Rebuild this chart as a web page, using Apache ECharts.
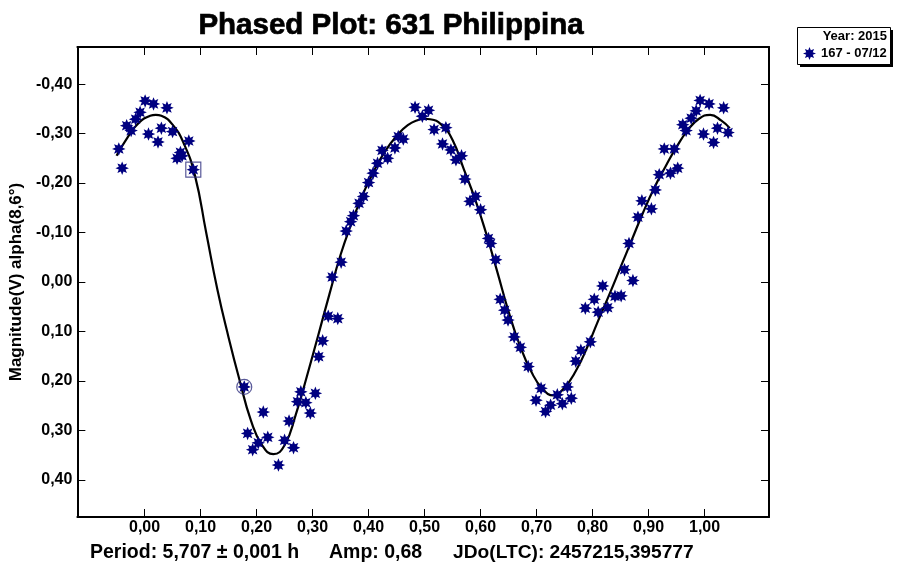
<!DOCTYPE html>
<html>
<head>
<meta charset="utf-8">
<script src="https://cdn.jsdelivr.net/npm/echarts@6/dist/echarts.min.js"></script>
<style>
html,body{margin:0;padding:0;background:#fff;}
#chart{width:900px;height:573px;}
</style>
</head>
<body>
<div id="chart"></div>
<script>
// ---- data ----
var titleText = 'Phased Plot: 631 Philippina';
var yAxisName = 'Magnitude(V) alpha(8,6°)';
var footerPeriod = 'Period: 5,707 ± 0,001 h';
var footerAmp = 'Amp: 0,68';
var footerJD = 'JDo(LTC): 2457215,395777';
var legendHeader = 'Year: 2015';
var seriesName = '167 - 07/12';

var xTicks = [0.0, 0.1, 0.2, 0.3, 0.4, 0.5, 0.6, 0.7, 0.8, 0.9, 1.0];
var yTicks = [-0.4, -0.3, -0.2, -0.1, 0.0, 0.1, 0.2, 0.3, 0.4];

// observed points [phase, magnitude]
var obs = [
  [-0.046,-0.269],[-0.040,-0.230],[-0.032,-0.316],[-0.024,-0.306],[-0.016,-0.329],
  [-0.008,-0.343],[0.001,-0.366],[0.016,-0.360],[0.007,-0.299],[0.024,-0.283],
  [0.030,-0.311],[0.040,-0.352],[0.050,-0.304],[0.058,-0.250],[0.064,-0.262],
  [0.067,-0.255],[0.079,-0.285],[0.087,-0.227],
  [0.178,0.212],[0.184,0.306],[0.193,0.339],[0.203,0.325],[0.212,0.263],
  [0.220,0.314],[0.239,0.370],[0.250,0.320],[0.258,0.281],[0.266,0.335],
  [0.273,0.242],[0.279,0.222],[0.288,0.244],[0.296,0.265],[0.305,0.225],
  [0.311,0.151],[0.318,0.119],[0.328,0.069],[0.345,0.074],[0.335,-0.010],
  [0.351,-0.040],[0.360,-0.103],[0.368,-0.122],[0.373,-0.134],[0.383,-0.159],
  [0.391,-0.173],[0.400,-0.201],[0.408,-0.220],[0.416,-0.240],[0.424,-0.266],
  [0.434,-0.250],[0.447,-0.271],[0.453,-0.294],[0.462,-0.289],[0.483,-0.353],
  [0.496,-0.335],[0.507,-0.347],[0.517,-0.308],[0.538,-0.312],[0.532,-0.279],
  [0.547,-0.267],[0.556,-0.247],[0.566,-0.255],[0.572,-0.208],[0.581,-0.163],
  [0.591,-0.173],[0.600,-0.146],[0.614,-0.088],[0.618,-0.078],[0.627,-0.045],
  [0.635,0.035],[0.643,0.057],[0.649,0.077],[0.660,0.111],[0.671,0.132],
  [0.685,0.171],[0.699,0.239],[0.708,0.215],[0.716,0.262],[0.725,0.249],
  [0.737,0.228],[0.746,0.246],[0.755,0.212],[0.762,0.235],[0.770,0.160],
  [0.779,0.138],[0.796,0.121],[0.787,0.053],[0.803,0.035],[0.818,0.008],
  [0.810,0.061],[0.827,0.052],[0.840,0.029],[0.851,0.028],[0.857,-0.025],
  [0.872,-0.003],[0.865,-0.078],[0.881,-0.131],[0.888,-0.164],[0.905,-0.148],
  [0.912,-0.186],[0.919,-0.217],[0.939,-0.220],[0.952,-0.230],[0.928,-0.269],
  [0.946,-0.269],[0.961,-0.318],[0.967,-0.306],[0.976,-0.331],[0.985,-0.346],
  [0.992,-0.367],[1.008,-0.360],[1.034,-0.352],[0.998,-0.299],[1.023,-0.311],
  [1.042,-0.302],[1.016,-0.282]
];

// highlighted points
var squarePoint = [[0.087,-0.227]];
var circlePoint = [[0.178,0.212]];

// fitted curve
var fit = [
  [-0.050,-0.255],[-0.030,-0.293],[-0.010,-0.322],[0.010,-0.336],[0.020,-0.338],
  [0.030,-0.336],[0.050,-0.318],[0.070,-0.280],[0.090,-0.215],[0.110,-0.100],
  [0.130,0.015],[0.150,0.112],[0.170,0.200],[0.190,0.280],[0.210,0.330],
  [0.230,0.348],[0.250,0.330],[0.270,0.268],[0.290,0.190],[0.310,0.108],
  [0.330,0.025],[0.350,-0.055],[0.370,-0.120],[0.390,-0.178],[0.410,-0.225],
  [0.430,-0.265],[0.450,-0.295],[0.470,-0.317],[0.490,-0.328],[0.500,-0.330],
  [0.510,-0.329],[0.530,-0.318],[0.550,-0.287],[0.570,-0.228],[0.590,-0.168],
  [0.610,-0.098],[0.630,-0.020],[0.650,0.060],[0.670,0.128],[0.690,0.180],
  [0.710,0.215],[0.730,0.229],[0.750,0.213],[0.770,0.180],[0.790,0.133],
  [0.810,0.078],[0.830,0.025],[0.850,-0.030],[0.870,-0.085],[0.890,-0.140],
  [0.910,-0.190],[0.930,-0.233],[0.950,-0.273],[0.970,-0.307],[0.990,-0.330],
  [1.010,-0.338],[1.030,-0.326],[1.045,-0.311]
];

// ---- drawing ----
var FONT = "'Liberation Sans', Arial, sans-serif";
var NAVY = '#000080';

function starPath(n, rOut, rIn) {
  var s = '';
  for (var i = 0; i < 2 * n; i++) {
    var r = (i % 2 === 0) ? rOut : rIn;
    var a = Math.PI * i / n - Math.PI / 2;
    var x = (10 + r * Math.cos(a)).toFixed(3);
    var y = (10 + r * Math.sin(a)).toFixed(3);
    s += (i === 0 ? 'M' : 'L') + x + ' ' + y + ' ';
  }
  return 'path://' + s + 'Z';
}
var STAR = starPath(8, 10, 5.4);

function fmt(v) { return v.toFixed(2).replace('.', ','); }

var chart = echarts.init(document.getElementById('chart'), null, {renderer: 'canvas'});

var axisCommon = {
  type: 'value',
  axisLine: {show: true, onZero: false, lineStyle: {color: '#000', width: 2}},
  splitLine: {show: false}
};
var tickStyle = {color: '#000', width: 1};

var option = {
  backgroundColor: '#fff',
  animation: false,
  title: {
    text: titleText,
    left: 386, top: 6, textAlign: 'center',
    textStyle: {fontFamily: FONT, fontWeight: 'bold', fontSize: 29.5, color: '#000',
      textBorderColor: '#000', textBorderWidth: 0.7}
  },
  grid: {left: 77, top: 47, right: 131, bottom: 56, containLabel: false},
  legend: {
    data: [seriesName],
    left: 803, top: 47,
    itemWidth: 13, itemHeight: 13, itemGap: 4,
    textStyle: {fontFamily: FONT, fontWeight: 'bold', fontSize: 13, color: '#000'},
    padding: 0
  },
  xAxis: [
    Object.assign({}, axisCommon, {
      position: 'bottom', min: -0.12, max: 1.115,
      axisTick: {show: true, inside: true, length: 8, lineStyle: tickStyle, customValues: xTicks},
      axisLabel: {show: true, customValues: xTicks, formatter: fmt, margin: 3,
        fontFamily: FONT, fontWeight: 'bold', fontSize: 16, color: '#000'}
    }),
    Object.assign({}, axisCommon, {
      position: 'top', min: -0.12, max: 1.115,
      axisTick: {show: true, inside: true, length: 8, lineStyle: tickStyle, customValues: xTicks},
      axisLabel: {show: false}
    })
  ],
  yAxis: [
    Object.assign({}, axisCommon, {
      position: 'left', min: -0.475, max: 0.475, inverse: true,
      axisTick: {show: true, inside: true, length: 8, lineStyle: tickStyle, customValues: yTicks},
      axisLabel: {show: true, customValues: yTicks, formatter: fmt, margin: 5,
        fontFamily: FONT, fontWeight: 'bold', fontSize: 16, color: '#000'},
      name: yAxisName, nameLocation: 'middle', nameGap: 44, nameRotate: 90,
      nameTextStyle: {fontFamily: FONT, fontWeight: 'bold', fontSize: 17, color: '#000'}
    }),
    Object.assign({}, axisCommon, {
      position: 'right', min: -0.475, max: 0.475, inverse: true,
      axisTick: {show: true, inside: true, length: 8, lineStyle: tickStyle, customValues: yTicks},
      axisLabel: {show: false}
    })
  ],
  series: [
    {
      name: 'fit', type: 'line', data: fit, smooth: 0.5, showSymbol: false,
      lineStyle: {color: '#000', width: 2.2}, z: 3, silent: true
    },
    {
      name: seriesName, type: 'scatter', data: obs,
      symbol: STAR, symbolSize: 13.5,
      itemStyle: {color: NAVY, opacity: 1}, z: 4
    },
    {
      name: 'sq', type: 'scatter', data: squarePoint, symbol: 'rect', symbolSize: 15,
      itemStyle: {color: 'rgba(0,0,0,0)', borderColor: '#303080', borderWidth: 1.2}, z: 5
    },
    {
      name: 'ci', type: 'scatter', data: circlePoint, symbol: 'circle', symbolSize: 15,
      itemStyle: {color: 'rgba(0,0,0,0)', borderColor: '#303080', borderWidth: 1.2}, z: 5
    }
  ],
  graphic: [
    {
      type: 'rect', left: 800, top: 30, z: 0,
      shape: {width: 93, height: 37},
      style: {fill: '#000', stroke: null}
    },
    {
      type: 'rect', left: 797, top: 27, z: 1,
      shape: {width: 93, height: 37},
      style: {fill: '#fff', stroke: '#000', lineWidth: 1}
    },
    {
      type: 'text', right: 13, top: 30, z: 10,
      style: {text: legendHeader, fontFamily: FONT, fontWeight: 'bold', fontSize: 13, fill: '#000'}
    },
    {
      type: 'text', left: 90, top: 543, z: 10,
      style: {text: footerPeriod, fontFamily: FONT, fontWeight: 'bold', fontSize: 19.5, fill: '#000'}
    },
    {
      type: 'text', left: 329, top: 543, z: 10,
      style: {text: footerAmp, fontFamily: FONT, fontWeight: 'bold', fontSize: 19.5, fill: '#000'}
    },
    {
      type: 'text', left: 453, top: 543, z: 10,
      style: {text: footerJD, fontFamily: FONT, fontWeight: 'bold', fontSize: 19.2, fill: '#000'}
    }
  ]
};
chart.setOption(option);
</script>
</body>
</html>
